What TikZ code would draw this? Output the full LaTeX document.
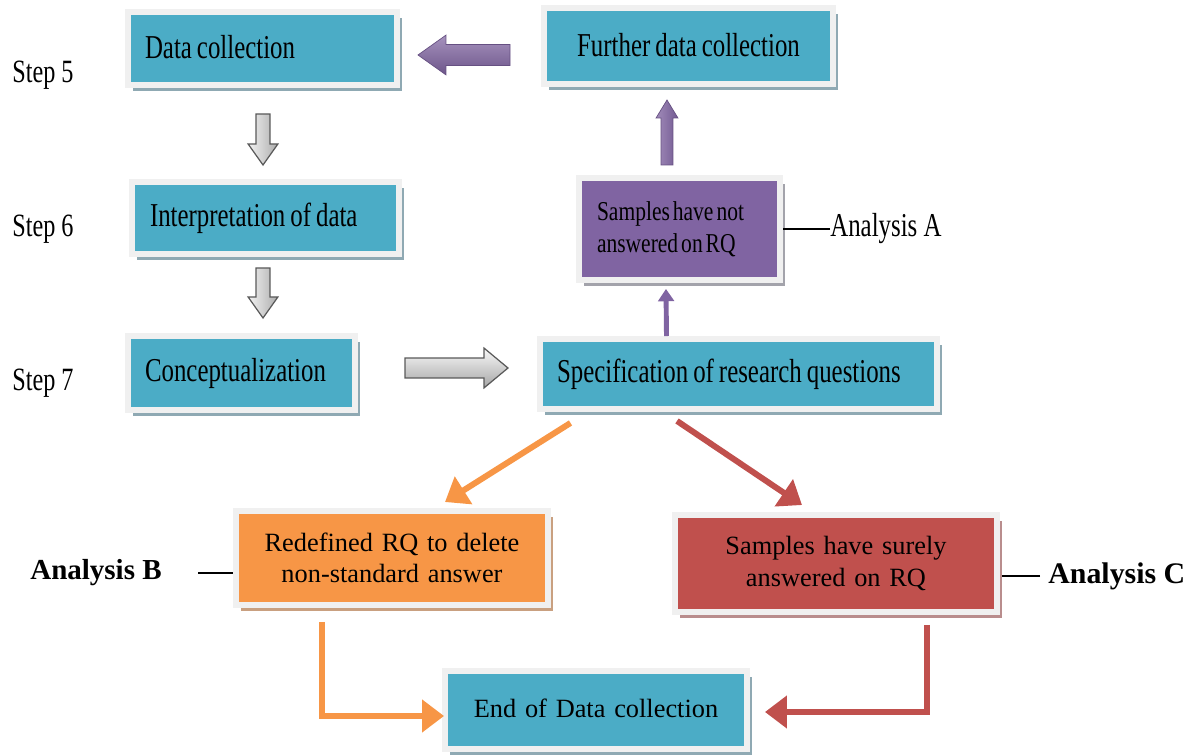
\documentclass[tikz,border=0pt]{standalone}
\usepackage{fontspec}
\setmainfont{Liberation Serif}
\newfontfamily\condfont[FakeStretch=0.745]{Liberation Serif}
\newfontfamily\sampfont[FakeStretch=0.79]{Liberation Serif}
\usetikzlibrary{calc,shadows,arrows.meta}
\definecolor{teal1}{HTML}{4BACC6}
\definecolor{purp}{HTML}{8064A2}
\definecolor{orng}{HTML}{F79646}
\definecolor{redd}{HTML}{C0504D}
\definecolor{frm}{HTML}{F0F0F0}
\definecolor{shTeal}{HTML}{8FA9B3}
\definecolor{shOr}{HTML}{C9A080}
\definecolor{shRed}{HTML}{B98D8D}
\definecolor{shPur}{HTML}{A3A3AB}
\newcommand\blockarrow[6]{%
  \coordinate (ba-h) at ($(#3)!#6!(#2)$);
  \draw[#1] ($(#2)!#4!90:(#3)$) -- ($(ba-h)!#4!90:(#3)$) -- ($(ba-h)!#5!90:(#3)$) -- (#3)
    -- ($(ba-h)!#5!-90:(#3)$) -- ($(ba-h)!#4!-90:(#3)$) -- ($(#2)!#4!-90:(#3)$) -- cycle;}
\newcommand\tsp{\spaceskip=0.15em plus 0.05em\relax}
\newcommand\ssp{\spaceskip=0.11em plus 0.03em\relax}
\tikzset{
  box/.style={draw=frm, line width=3.4pt, inner ysep=0pt, text=black},
  shad/.style={drop shadow={shadow xshift=2.8pt, shadow yshift=-3.4pt, fill=#1, opacity=1}},
  tealbox/.style={box, fill=teal1, shad=shTeal},
  purpbox/.style={box, fill=purp, shad=shPur},
  orbox/.style={box, fill=orng, shad=shOr},
  redbox/.style={box, fill=redd, shad=shRed},
  topf/.style={font=\fontsize{19}{23}\condfont},
  stepf/.style={font=\fontsize{18.5}{22}\condfont},
  sampf/.style={font=\fontsize{15.5}{18}\sampfont},
  botf/.style={font=\fontsize{15}{18}\selectfont},
  anf/.style={font=\fontsize{16.5}{20}\selectfont\bfseries},
  grayv/.style={left color=gray!10, right color=gray!65, draw=gray!70!black, line width=0.7pt},
  grayh/.style={top color=gray!5, bottom color=gray!70, draw=gray!70!black, line width=0.7pt},
  purph/.style={top color=purp!70, bottom color=purp!85!black, draw=purp!80!black, line width=0.4pt},
  purpv/.style={left color=purp!75, right color=purp!90!black, draw=purp!80!black, line width=0.4pt},
  oline/.style={draw=orng, line width=3.4pt, -{Triangle[length=12.5pt,width=18pt]}},
  rline/.style={draw=redd, line width=3.4pt, -{Triangle[length=12.5pt,width=18pt]}},
  pline/.style={draw=purp, line width=2.8pt, -{Triangle[length=7pt,width=9pt]}},
  thin/.style={draw=black, line width=0.7pt}
}
\begin{document}
\begin{tikzpicture}[x=0.02cm,y=-0.02cm]
\useasboundingbox (0,0) rectangle (1191,756);
% boxes
\node[tealbox, topf, text width=4.70cm, inner xsep=0.34cm, minimum height=1.46cm, align=left] (dc) at (262.5,48.5) {\tsp\raisebox{1.5pt}{Data collection}};
\node[tealbox, topf, text width=5.38cm, inner xsep=0.2cm, minimum height=1.52cm, align=center] (fdc) at (688.5,46) {\tsp\raisebox{1.5pt}{Further data collection}};
\node[tealbox, topf, text width=4.62cm, inner xsep=0.36cm, minimum height=1.44cm, align=left] (interp) at (265.5,218) {\tsp Interpretation of data};
\node[purpbox, sampf, text width=3.30cm, inner xsep=0.36cm, minimum height=2.04cm, align=left] (samp) at (679.5,229) {\ssp Samples have not\\\ssp answered on RQ};
\node[tealbox, topf, text width=3.86cm, inner xsep=0.34cm, minimum height=1.48cm, align=left] (concept) at (241.5,373) {\raisebox{2pt}{Conceptualization}};
\node[tealbox, topf, text width=7.26cm, inner xsep=0.34cm, minimum height=1.40cm, align=left] (spec) at (738.5,374) {\tsp\raisebox{1.5pt}{Specification of research questions}};
\node[orbox, botf, text width=5.84cm, inner xsep=0.2cm, minimum height=1.88cm, align=center] (redef) at (392,558) {Redefined RQ to delete\\non-standard answer};
\node[redbox, botf, text width=6.04cm, inner xsep=0.2cm, minimum height=1.94cm, align=center] (surely) at (836,563.5) {Samples have surely\\answered on RQ};
\node[tealbox, botf, text width=5.64cm, inner xsep=0.2cm, minimum height=1.56cm, align=center] (endd) at (596,710) {\raisebox{1.5pt}{End of Data collection}};
% step labels
\node[stepf, anchor=west, inner sep=0pt] (s5) at (12,75) {Step 5};
\node[stepf, anchor=west, inner sep=0pt] (s6) at (12,229) {Step 6};
\node[stepf, anchor=west, inner sep=0pt] (s7) at (12,383) {Step 7};
% analysis labels
\node[topf, anchor=west, inner sep=0pt] (anA) at (830,229) {Analysis A};
\draw[thin] (anA.west) -- (anA.west -| samp.east);
\node[anf, anchor=east, inner sep=0pt] (anB) at (162,573) {Analysis B};
\coordinate (bL) at (198,573);
\draw[thin, line width=1pt] (bL) -- (bL -| redef.west);
\node[anchor=west, inner sep=0pt, font=\fontsize{17}{20}\selectfont\bfseries] (anC) at (1048,576) {Analysis C};
\coordinate (cR) at (1040,576);
\coordinate (cL) at (1002,576);
\draw[thin, line width=1pt] (cR) -- (cL);
% block arrows
\coordinate (g1a) at (263,114); \coordinate (g1b) at (263,165);
\blockarrow{grayv}{g1a}{g1b}{3.97pt}{8.5pt}{12pt}
\coordinate (g2a) at (263,268); \coordinate (g2b) at (263,318);
\blockarrow{grayv}{g2a}{g2b}{3.97pt}{8.5pt}{12pt}
\coordinate (g3a) at (405,368); \coordinate (g3b) at (508,368);
\blockarrow{grayh}{g3a}{g3b}{5.67pt}{11.3pt}{13.6pt}
\coordinate (p1a) at (510,55); \coordinate (p1b) at (418,55);
\blockarrow{purph}{p1a}{p1b}{6pt}{11.3pt}{15.9pt}
\coordinate (p2a) at (667,165); \coordinate (p2b) at (667,100);
\blockarrow{purpv}{p2a}{p2b}{3.4pt}{6.2pt}{10.2pt}
% line connectors
\draw[pline] ($(spec.north)+(-72,0)$) -- ($(samp.south)+(-13.5,6)$);
\draw[oline] ($(spec.south)+(-168,11)$) -- ($(redef.north)+(53,-6)$);
\draw[rline] ($(spec.south)+(-61.5,9)$) -- ($(surely.north)+(-34,-7)$);
\draw[oline] ($(redef.south)+(-70,14)$) |- ($(endd.west)+(2,6)$);
\draw[rline] ($(surely.south)+(91,10)$) |- ($(endd.east)+(15,2)$);
\end{tikzpicture}
\end{document}
